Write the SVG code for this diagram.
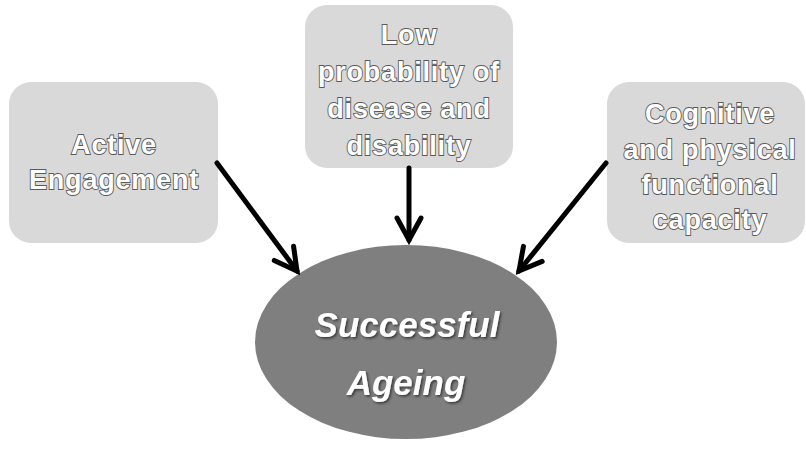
<svg xmlns="http://www.w3.org/2000/svg" width="806" height="454" viewBox="0 0 806 454">
  <style>
    .box { fill: #d9d9d9; }
    .lbl { font-family: "Liberation Sans", Arial, sans-serif; font-weight: bold; font-size: 27px; letter-spacing: 0.8px; fill: #ffffff; stroke: #5a5a5a; stroke-width: 1.8; paint-order: stroke; text-anchor: middle; }
    .main { font-family: "Liberation Sans", Arial, sans-serif; font-weight: bold; font-style: italic; font-size: 35px; fill: #ffffff; text-anchor: middle; }
    .conn { stroke: #000000; stroke-width: 5; fill: none; stroke-linecap: round; }
  </style>
  <defs>
    <marker id="arrow" markerUnits="userSpaceOnUse" markerWidth="40" markerHeight="40" refX="0" refY="0" viewBox="-30 -20 40 40" orient="auto">
      <path d="M -22,-12 L 0,0 L -22,12" fill="none" stroke="#000000" stroke-width="5" stroke-linecap="round" stroke-linejoin="miter"/>
    </marker>
    <filter id="shadow" x="-10%" y="-10%" width="120%" height="130%">
      <feDropShadow dx="1.5" dy="1.5" stdDeviation="0.8" flood-color="#333333" flood-opacity="0.9"/>
    </filter>
  </defs>
  <rect width="806" height="454" fill="#ffffff"/>

  <g id="node-active">
    <rect class="box" x="9" y="82" width="209" height="161" rx="22"/>
    <text class="lbl" x="114" y="154">Active</text>
    <text class="lbl" x="114" y="189">Engagement</text>
  </g>

  <g id="node-low">
    <rect class="box" x="305" y="5" width="208" height="163" rx="22"/>
    <text class="lbl" x="409" y="44">Low</text>
    <text class="lbl" x="409" y="81">probability of</text>
    <text class="lbl" x="409" y="118">disease and</text>
    <text class="lbl" x="409" y="155">disability</text>
  </g>

  <g id="node-cognitive">
    <rect class="box" x="607" y="82" width="198" height="161" rx="22"/>
    <text class="lbl" x="710" y="123">Cognitive</text>
    <text class="lbl" x="710" y="159">and physical</text>
    <text class="lbl" x="710" y="194">functional</text>
    <text class="lbl" x="710" y="229">capacity</text>
  </g>

  <g id="node-success">
    <ellipse cx="406" cy="342" rx="151" ry="97" fill="#7f7f7f"/>
    <text class="main" x="407" y="337" filter="url(#shadow)">Successful</text>
    <text class="main" x="406" y="395" filter="url(#shadow)">Ageing</text>
  </g>

  <g id="connectors">
    <line class="conn" x1="217" y1="163" x2="297" y2="271" marker-end="url(#arrow)"/>
    <line class="conn" x1="409" y1="168" x2="409" y2="240" marker-end="url(#arrow)"/>
    <line class="conn" x1="606" y1="163" x2="519" y2="271" marker-end="url(#arrow)"/>
  </g>
</svg>
